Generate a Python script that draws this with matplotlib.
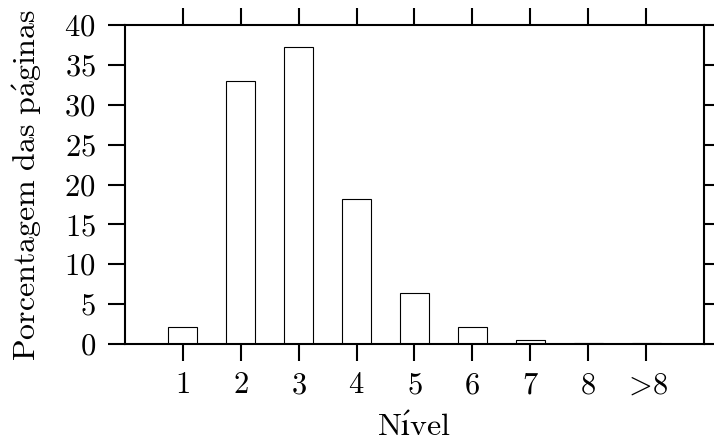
import numpy as np
import matplotlib
matplotlib.use('Agg')
import matplotlib.pyplot as plt

plt.rcParams['mathtext.fontset'] = 'cm'
plt.rcParams['font.family'] = ['cmr10', 'DejaVu Serif']

# data
niveis = ['1', '2', '3', '4', '5', '6', '7', '8', '>8']
porcentagem = [2.13, 33.05, 37.3, 18.15, 6.4, 2.18, 0.46, 0.15, 0.08]
yticks = [0, 5, 10, 15, 20, 25, 30, 35, 40]

pos = np.arange(1, len(niveis) + 1)

fig = plt.figure(figsize=(7.14, 4.41), dpi=100)
ax = fig.add_axes([0.175, 0.22, 0.811, 0.723])

ax.bar(pos, porcentagem, width=0.5, color='white', edgecolor='black', linewidth=0.8)

ax.set_xlim(0, 10)
ax.set_ylim(0, 40)
ax.set_xticks(pos)
labels = []
for n in niveis:
    if n.startswith('>'):
        labels.append(r'$>\!' + n[1:] + '$')
    else:
        labels.append('$' + n + '$')
ax.set_xticklabels(labels, fontsize=22)
ax.set_yticks(yticks)
ax.set_yticklabels(['$%d$' % v for v in yticks], fontsize=22)

ax.tick_params(direction='out', top=True, right=True, length=12, width=1.5, pad=8)
ax.tick_params(axis='y', pad=9)
for s in ax.spines.values():
    s.set_linewidth(1.5)

ax.set_xlabel(r'$\mathrm{N\acute{ı}vel}$', fontsize=23)
ax.set_ylabel(r'$\mathrm{Porcentagem\ das\ p\acute{a}ginas}$', fontsize=23)
ax.xaxis.set_label_coords(0.5, -0.215)
ax.yaxis.set_label_coords(-0.14, 0.5)

fig.savefig('out.png', dpi=100)
